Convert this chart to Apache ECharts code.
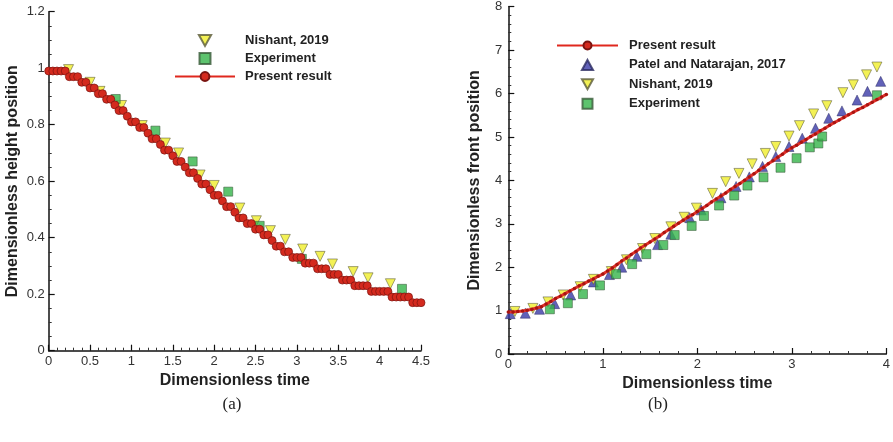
<!DOCTYPE html>
<html>
<head>
<meta charset="utf-8">
<script src="https://cdn.jsdelivr.net/npm/echarts@6/dist/echarts.min.js"></script>
<style>html,body{margin:0;padding:0;background:#fff;}#c{width:893px;height:442px;}</style>
</head>
<body>
<div id="c"></div>
<script>
// ---------- Panel (a): dimensionless height position ----------
const presentA = [
[0,0.99],[0.05,0.99],[0.1,0.99],[0.15,0.99],[0.2,0.99],[0.25,0.97],[0.3,0.97],[0.35,0.97],[0.4,0.95],[0.45,0.95],
[0.5,0.93],[0.55,0.93],[0.6,0.91],[0.65,0.91],[0.7,0.89],[0.75,0.89],[0.8,0.87],[0.85,0.85],[0.9,0.85],[0.95,0.83],
[1.0,0.81],[1.05,0.81],[1.1,0.79],[1.15,0.79],[1.2,0.77],[1.25,0.75],[1.3,0.75],[1.35,0.73],[1.4,0.71],[1.45,0.71],
[1.5,0.69],[1.55,0.67],[1.6,0.67],[1.65,0.65],[1.7,0.63],[1.75,0.63],[1.8,0.61],[1.85,0.59],[1.9,0.59],[1.95,0.57],
[2.0,0.55],[2.05,0.55],[2.1,0.53],[2.15,0.51],[2.2,0.51],[2.25,0.49],[2.3,0.47],[2.35,0.47],[2.4,0.45],[2.45,0.45],
[2.5,0.43],[2.55,0.43],[2.6,0.41],[2.65,0.41],[2.7,0.39],[2.75,0.37],[2.8,0.37],[2.85,0.35],[2.9,0.35],[2.95,0.33],
[3.0,0.33],[3.05,0.33],[3.1,0.31],[3.15,0.31],[3.2,0.31],[3.25,0.29],[3.3,0.29],[3.35,0.29],[3.4,0.27],[3.45,0.27],
[3.5,0.27],[3.55,0.25],[3.6,0.25],[3.65,0.25],[3.7,0.23],[3.75,0.23],[3.8,0.23],[3.85,0.23],[3.9,0.21],[3.95,0.21],
[4.0,0.21],[4.05,0.21],[4.1,0.21],[4.15,0.19],[4.2,0.19],[4.25,0.19],[4.3,0.19],[4.35,0.19],[4.4,0.17],[4.45,0.17],[4.5,0.17]
];
const nishantA = [[0.24,0.995],[0.5,0.95],[0.62,0.918],[0.88,0.868],[1.13,0.797],[1.41,0.735],[1.57,0.7],[1.83,0.622],
[2.0,0.585],[2.31,0.505],[2.51,0.46],[2.68,0.425],[2.86,0.394],[3.07,0.36],[3.28,0.334],[3.43,0.307],[3.68,0.28],[3.86,0.258],[4.13,0.237]];
const experimentA = [[0.81,0.891],[1.29,0.779],[1.74,0.67],[2.17,0.563],[2.55,0.442],[3.06,0.325],[4.27,0.219]];

// ---------- Panel (b): dimensionless front position ----------
const presentB = [
[0,0.97],[0.05,0.97],[0.1,0.98],[0.15,0.99],[0.2,1.01],[0.25,1.03],[0.3,1.06],[0.35,1.09],[0.4,1.15],[0.45,1.21],
[0.5,1.28],[0.55,1.33],[0.6,1.39],[0.65,1.45],[0.7,1.51],[0.75,1.57],[0.8,1.62],[0.85,1.68],[0.9,1.73],[0.95,1.79],
[1.0,1.84],[1.05,1.91],[1.1,1.98],[1.15,2.06],[1.2,2.14],[1.25,2.21],[1.3,2.29],[1.35,2.36],[1.4,2.44],[1.45,2.51],
[1.5,2.58],[1.55,2.65],[1.6,2.72],[1.65,2.8],[1.7,2.87],[1.75,2.94],[1.8,3.01],[1.85,3.08],[1.9,3.15],[1.95,3.21],
[2.0,3.28],[2.05,3.35],[2.1,3.42],[2.15,3.5],[2.2,3.57],[2.25,3.64],[2.3,3.71],[2.35,3.79],[2.4,3.86],[2.45,3.93],
[2.5,4.0],[2.55,4.08],[2.6,4.15],[2.65,4.23],[2.7,4.3],[2.75,4.38],[2.8,4.45],[2.85,4.53],[2.9,4.6],[2.95,4.68],
[3.0,4.75],[3.05,4.81],[3.1,4.88],[3.15,4.94],[3.2,5.01],[3.25,5.07],[3.3,5.14],[3.35,5.2],[3.4,5.27],[3.45,5.33],
[3.5,5.39],[3.55,5.45],[3.6,5.51],[3.65,5.57],[3.7,5.63],[3.75,5.68],[3.8,5.74],[3.85,5.8],[3.9,5.86],[3.95,5.92],[4.0,5.98]
];
const patelB = [[0.02,0.93],[0.18,0.94],[0.33,1.03],[0.49,1.16],[0.66,1.36],[0.9,1.66],[1.07,1.83],[1.2,2.0],[1.36,2.25],
[1.58,2.52],[1.72,2.76],[1.92,3.14],[2.04,3.32],[2.25,3.6],[2.41,3.86],[2.55,4.08],[2.69,4.32],[2.83,4.55],[2.97,4.78],
[3.11,4.97],[3.25,5.2],[3.39,5.43],[3.53,5.6],[3.69,5.85],[3.8,6.05],[3.94,6.28]];
const nishantB = [[0.07,0.98],[0.26,1.05],[0.42,1.2],[0.58,1.36],[0.76,1.55],[0.9,1.72],[1.09,1.9],[1.25,2.17],[1.42,2.43],
[1.55,2.66],[1.72,2.93],[1.86,3.15],[1.99,3.36],[2.16,3.7],[2.3,3.97],[2.44,4.16],[2.58,4.38],[2.72,4.62],[2.83,4.78],
[2.97,5.02],[3.08,5.26],[3.23,5.53],[3.37,5.72],[3.54,6.02],[3.65,6.2],[3.79,6.43],[3.9,6.61]];
const experimentB = [[0.44,1.03],[0.63,1.17],[0.79,1.38],[0.97,1.58],[1.14,1.84],[1.31,2.07],[1.46,2.3],[1.64,2.51],
[1.76,2.74],[1.94,2.95],[2.07,3.18],[2.23,3.42],[2.39,3.65],[2.53,3.88],[2.7,4.07],[2.88,4.29],[3.05,4.51],[3.19,4.76],
[3.28,4.85],[3.32,5.01],[3.9,5.96]];

const legendA = ['Nishant, 2019','Experiment','Present result'];
const legendB = ['Present result','Patel and Natarajan, 2017','Nishant, 2019','Experiment'];

const FONT = '"Liberation Sans", Arial, Helvetica, sans-serif';
const YELLOW = '#f0ee2a', GREEN = '#34b44a', RED = '#d42a1e', BLUE = '#3a3aa6', EDGE = '#5a5a3a';
const ICONS = {
  'Nishant, 2019': 'path://M0,0L10,0L5,9Z',
  'Patel and Natarajan, 2017': 'path://M5,0L10,9L0,9Z',
  'Experiment': 'path://M0,0L10,0L10,10L0,10Z'
};
function legendItems(names) {
  return names.map(n => ICONS[n] ? { name: n, icon: ICONS[n] } : { name: n });
}

function axisBase(extra) {
  return Object.assign({
    type: 'value',
    nameLocation: 'middle',
    nameTextStyle: { fontFamily: FONT, fontSize: 16, fontWeight: 'bold', color: '#222' },
    axisLine: { show: true, lineStyle: { color: '#111', width: 1.5 } },
    axisTick: { show: true, inside: true, length: 6, lineStyle: { color: '#111', width: 1.2 } },
    splitLine: { show: false },
    minorSplitLine: { show: false }
  }, extra);
}
function label(margin) {
  return { fontFamily: FONT, fontSize: 13, color: '#333', margin: margin };
}
function minor(n) {
  return { show: true, splitNumber: n, length: 3, lineStyle: { color: '#333', width: 1 } };
}

const chart = echarts.init(document.getElementById('c'), null, { renderer: 'canvas' });
chart.setOption({
  animation: false,
  backgroundColor: '#ffffff',
  grid: [
    { left: 48.7, top: 11.7, width: 372.3, height: 339 },
    { left: 508.3, top: 6.7, width: 379.4, height: 347.3 }
  ],
  xAxis: [
    axisBase({ gridIndex: 0, min: 0, max: 4.5, interval: 0.5, name: 'Dimensionless time', nameGap: 15,
      minorTick: minor(5), axisLabel: label(4) }),
    axisBase({ gridIndex: 1, min: 0, max: 4, interval: 1, name: 'Dimensionless time', nameGap: 15,
      minorTick: minor(5), axisLabel: label(4) })
  ],
  yAxis: [
    axisBase({ gridIndex: 0, min: 0, max: 1.2, interval: 0.2, name: 'Dimensionless height position', nameGap: 28,
      minorTick: minor(4), axisLabel: label(4) }),
    axisBase({ gridIndex: 1, min: 0, max: 8, interval: 1, name: 'Dimensionless front position', nameGap: 26,
      minorTick: minor(5), axisLabel: label(6) })
  ],
  legend: [
    { data: legendItems(legendA), orient: 'vertical', left: 169, top: 29, itemWidth: 60, itemHeight: 11, itemGap: 5,
      symbolRotate: 0, symbolKeepAspect: true,
      textStyle: { fontFamily: FONT, fontSize: 13, fontWeight: 'bold', color: '#222', padding: [0,0,0,5] },
      selectedMode: false },
    { data: legendItems(legendB), orient: 'vertical', left: 551, top: 34, itemWidth: 61, itemHeight: 10, itemGap: 6.4,
      symbolRotate: 0, symbolKeepAspect: true,
      textStyle: { fontFamily: FONT, fontSize: 13, fontWeight: 'bold', color: '#222', padding: [0,0,0,6] },
      selectedMode: false }
  ],
  series: [
    { name: 'Nishant, 2019', type: 'scatter', xAxisIndex: 0, yAxisIndex: 0, data: nishantA,
      symbol: 'triangle', symbolRotate: 180, symbolSize: 10,
      itemStyle: { color: YELLOW, borderColor: EDGE, borderWidth: 0.7 } },
    { name: 'Present result', type: 'line', xAxisIndex: 0, yAxisIndex: 0, data: presentA,
      symbol: 'circle', symbolSize: 8, showAllSymbol: true,
      lineStyle: { color: '#e0281e', width: 1.5 },
      itemStyle: { color: RED, borderColor: '#7a1410', borderWidth: 0.7 } },
    { name: 'Experiment', type: 'scatter', xAxisIndex: 0, yAxisIndex: 0, data: experimentA,
      symbol: 'rect', symbolSize: 9,
      itemStyle: { color: GREEN, borderColor: '#3a5a3a', borderWidth: 0.7 } },

    { name: 'Patel and Natarajan, 2017', type: 'scatter', xAxisIndex: 1, yAxisIndex: 1, data: patelB,
      symbol: 'triangle', symbolSize: 10,
      itemStyle: { color: BLUE, borderColor: '#2a2a60', borderWidth: 0.6 } },
    { name: 'Nishant, 2019', type: 'scatter', xAxisIndex: 1, yAxisIndex: 1, data: nishantB,
      symbol: 'triangle', symbolRotate: 180, symbolSize: 10,
      itemStyle: { color: YELLOW, borderColor: EDGE, borderWidth: 0.7 } },
    { name: 'Experiment', type: 'scatter', xAxisIndex: 1, yAxisIndex: 1, data: experimentB,
      symbol: 'rect', symbolSize: 9,
      itemStyle: { color: GREEN, borderColor: '#3a5a3a', borderWidth: 0.7 } },
    { name: 'Present result', type: 'line', xAxisIndex: 1, yAxisIndex: 1, data: presentB,
      symbol: 'circle', symbolSize: 3.5, showAllSymbol: true,
      lineStyle: { color: '#e0302a', width: 3 },
      itemStyle: { color: '#a81410', borderWidth: 0 } }
  ],
  graphic: [
    { type: 'text', x: 232, y: 405, style: { text: '(a)', fontFamily: '"Liberation Serif", "Times New Roman", serif', fontSize: 17, fill: '#222', textAlign: 'center', textVerticalAlign: 'middle' } },
    { type: 'text', x: 658, y: 405, style: { text: '(b)', fontFamily: '"Liberation Serif", "Times New Roman", serif', fontSize: 17, fill: '#222', textAlign: 'center', textVerticalAlign: 'middle' } }
  ]
});
</script>
</body>
</html>
